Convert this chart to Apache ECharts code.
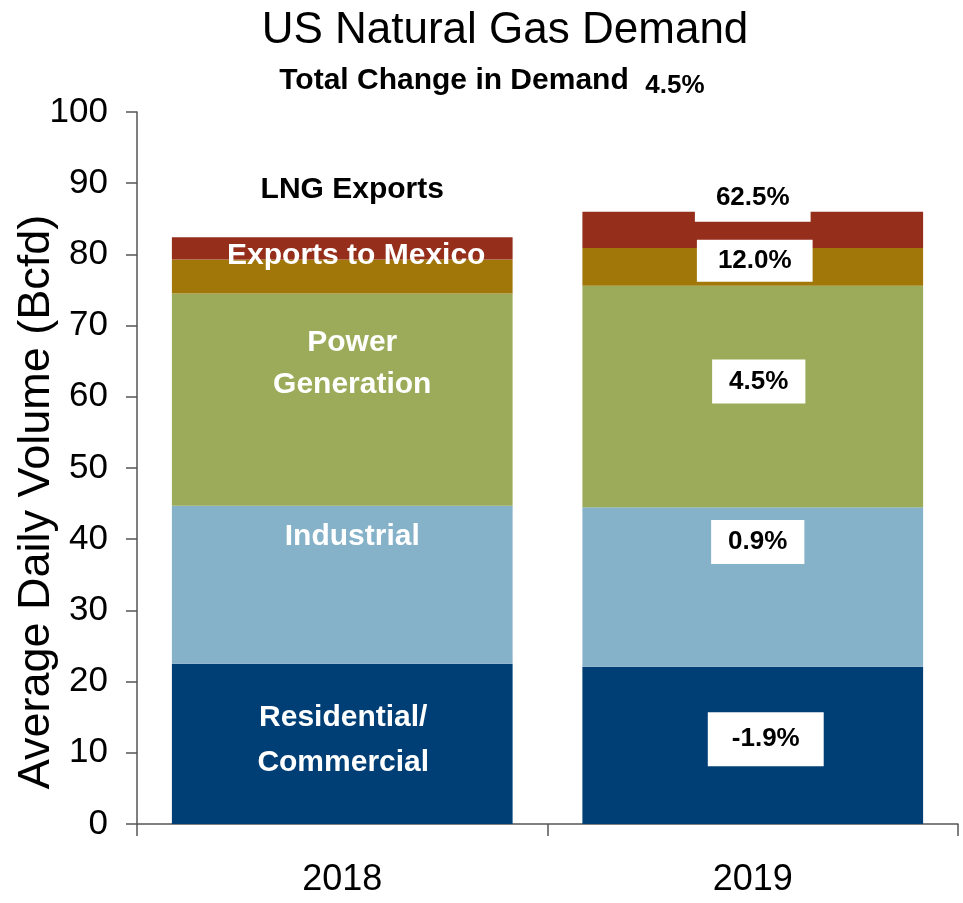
<!DOCTYPE html>
<html>
<head>
<meta charset="utf-8">
<script src="https://cdn.jsdelivr.net/npm/echarts@6/dist/echarts.min.js"></script>
<style>
  html, body { margin: 0; padding: 0; background: #fff; }
  #chart { width: 963px; height: 903px; }
</style>
</head>
<body>
<div id="chart"></div>
<script>
// values in Bcfd
const years = ['2018', '2019']
const residential = [22.5, 22.1]
const industrial = [22.2, 22.4]
const power = [29.8, 31.1]
const mexico = [4.8, 5.3]
const lng = [3.1, 5.1]
const sectorNames = ['Residential/\nCommercial', 'Industrial', 'Power\nGeneration', 'Exports to Mexico', 'LNG Exports']
const changeLabels = ['-1.9%', '0.9%', '4.5%', '12.0%', '62.5%']
const totalChange = '4.5%'
const yTicks = [0, 10, 20, 30, 40, 50, 60, 70, 80, 90, 100]

const font = "'Liberation Sans', Arial, sans-serif"
const colorList = ['#003f76', '#85b1c9', '#9cab59', '#a1770a', '#952e1b']

// label placement for each segment: [2018 offset, 2019 offset]
const labelOffsets = [
  [[1, -4], [13, -6]],
  [[10, -48], [5, -45]],
  [[10, -36], [6, -15]],
  [[14, -21], [2, -6]],
  [[10, -22], [0, -32]]
]
const boxPadding = [[12, 24], [7, 17], [7, 17], [6, 21], [9, 21]]

const stacks = [residential, industrial, power, mexico, lng]

const series = stacks.map((values, i) => {
  return {
    name: sectorNames[i].replace('\n', ' '),
    type: 'bar',
    stack: 'total',
    barWidth: '83%',
    itemStyle: { color: colorList[i] },
    data: values.map((v, j) => {
      if (j === 0) {
        const isLng = i === 4
        return {
          value: v,
          label: {
            show: true,
            position: isLng ? 'top' : 'inside',
            distance: 5,
            offset: labelOffsets[i][0],
            formatter: sectorNames[i],
            color: isLng ? '#000' : '#fff',
            fontFamily: font,
            fontWeight: 'bold',
            fontSize: 30,
            lineHeight: i === 0 ? 45 : 42
          }
        }
      }
      return {
        value: v,
        label: {
          show: true,
          position: 'inside',
          offset: labelOffsets[i][1],
          formatter: changeLabels[i],
          color: '#000',
          backgroundColor: '#fff',
          padding: boxPadding[i],
          fontFamily: font,
          fontWeight: 'bold',
          fontSize: 26,
          lineHeight: 30
        }
      }
    })
  }
})

const chart = echarts.init(document.getElementById('chart'))
chart.setOption({
  animation: false,
  backgroundColor: '#fff',
  title: [
    {
      text: 'US Natural Gas Demand',
      left: 500,
      top: 4,
      textAlign: 'center',
      textStyle: { fontFamily: font, fontWeight: 'normal', fontSize: 44, color: '#000' }
    },
    {
      text: 'Total Change in Demand',
      left: 449,
      top: 61,
      textAlign: 'center',
      textStyle: { fontFamily: font, fontWeight: 'bold', fontSize: 30, color: '#000' }
    },
    {
      text: totalChange,
      left: 670,
      top: 68,
      textAlign: 'center',
      textStyle: { fontFamily: font, fontWeight: 'bold', fontSize: 26, color: '#000' }
    }
  ],
  grid: {
    left: 137,
    right: 5,
    top: 112,
    bottom: 79,
    containLabel: false,
    outerBoundsMode: 'none'
  },
  xAxis: {
    type: 'category',
    data: years,
    axisLine: { lineStyle: { color: '#555', width: 1.5 } },
    axisTick: { show: true, length: 12, lineStyle: { color: '#555', width: 1.5 } },
    axisLabel: { fontFamily: font, fontSize: 36, color: '#000', margin: 38 }
  },
  yAxis: {
    type: 'value',
    min: yTicks[0],
    max: yTicks[yTicks.length - 1],
    interval: 10,
    name: 'Average Daily Volume (Bcfd)',
    nameLocation: 'middle',
    nameGap: 78,
    nameMoveOverlap: false,
    nameTextStyle: {
      fontFamily: font,
      fontSize: 45,
      color: '#000',
      padding: [0, 68, 0, 0]
    },
    axisLine: { show: true, lineStyle: { color: '#555', width: 1.5 } },
    axisTick: { show: true, length: 11, lineStyle: { color: '#555', width: 1.5 } },
    splitLine: { show: false },
    axisLabel: { fontFamily: font, fontSize: 35, color: '#000', margin: 29 }
  },
  series: series
})
</script>
</body>
</html>
